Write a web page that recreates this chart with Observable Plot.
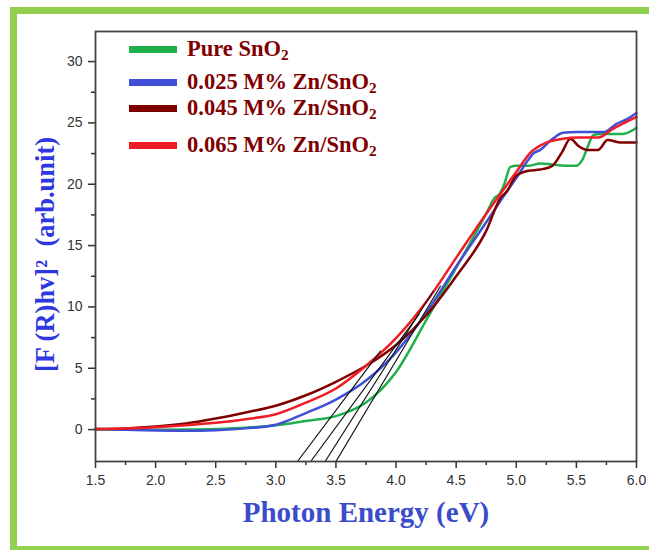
<!DOCTYPE html>
<html><head><meta charset="utf-8">
<script src="https://cdn.jsdelivr.net/npm/d3@7"></script>
<script src="https://cdn.jsdelivr.net/npm/@observablehq/plot@0.6"></script>
<style>
html,body{margin:0;padding:0;background:#fff;overflow:hidden;}
#wrap{position:relative;width:649px;height:550px;overflow:hidden;}
#chart{position:absolute;left:0;top:0;}
#border{position:absolute;left:10px;top:7px;width:660px;height:546px;box-sizing:border-box;border:7px solid #92d050;pointer-events:none;}
#legend{position:absolute;left:0;top:0;font-family:"Liberation Serif","Times New Roman",serif;font-weight:bold;font-size:22.5px;color:#800000;}
.row{position:absolute;left:129px;display:flex;align-items:center;height:30px;white-space:nowrap;}
.sw{width:48px;height:7px;margin-right:10px;flex:none;}
sub{font-size:0.68em;vertical-align:-0.25em;line-height:0;}
</style></head>
<body><div id="wrap"><div id="chart"></div><div id="border"></div><div id="legend"></div></div>
<script>
// ---- data ----
const seriesNames = ["Pure SnO2", "0.025 M% Zn/SnO2", "0.045 M% Zn/SnO2", "0.065 M% Zn/SnO2"];
const seriesLegendHtml = ["Pure SnO<sub>2</sub>", "0.025 M% Zn/SnO<sub>2</sub>", "0.045 M% Zn/SnO<sub>2</sub>", "0.065 M% Zn/SnO<sub>2</sub>"];
const seriesColors = ["#1fb04b", "#3f4fd6", "#800000", "#ee1c25"];

const pureE = [1.5,1.75,2.0,2.25,2.5,2.75,3.0,3.25,3.5,3.75,4.0,4.25,4.5,4.65,4.75,4.82,4.86,4.9,4.95,5.0,5.1,5.2,5.3,5.4,5.5,5.55,5.6,5.64,5.7,5.8,5.89,5.95,6.0];
const pureY = [0.0,0.0,-0.02,0.0,0.05,0.15,0.35,0.7,1.1,2.2,4.7,8.9,13.2,15.8,17.6,18.9,19.2,20.0,21.4,21.5,21.5,21.7,21.6,21.5,21.5,22.0,23.2,24.0,24.1,24.1,24.1,24.3,24.6];

const zn025E = [1.5,1.75,2.0,2.25,2.5,2.75,3.0,3.25,3.5,3.75,4.0,4.25,4.5,4.75,4.9,5.0,5.1,5.14,5.2,5.29,5.39,5.5,5.6,5.73,5.83,5.92,6.0];
const zn025Y = [0.05,-0.02,-0.08,-0.1,-0.05,0.1,0.4,1.35,2.45,4.0,6.3,9.5,13.3,16.9,19.1,20.5,22.0,22.5,22.8,23.6,24.2,24.25,24.25,24.25,24.9,25.3,25.8];

const zn045E = [1.5,1.75,2.0,2.25,2.5,2.75,3.0,3.25,3.5,3.75,4.0,4.25,4.5,4.75,4.87,4.92,5.0,5.1,5.2,5.3,5.38,5.45,5.52,5.59,5.68,5.76,5.87,6.0];
const zn045Y = [0.05,0.1,0.25,0.5,0.9,1.4,1.95,2.8,3.9,5.2,6.9,9.3,12.5,16.2,18.9,19.4,20.7,21.1,21.2,21.5,22.6,23.7,23.1,22.8,22.8,23.6,23.4,23.4];

const zn065E = [1.5,1.75,2.0,2.25,2.5,2.75,3.0,3.25,3.5,3.75,4.0,4.25,4.5,4.75,5.0,5.12,5.25,5.39,5.5,5.6,5.68,5.8,5.9,6.0];
const zn065Y = [0.05,0.1,0.2,0.35,0.55,0.85,1.25,2.2,3.35,5.2,7.45,10.4,14.0,17.6,21.0,22.6,23.4,23.7,23.8,23.8,23.8,24.5,25.0,25.5];

// tangent (band-gap extrapolation) lines
const tangentStartE = [3.18, 3.29, 3.41, 3.50];
const tangentEndE = [3.87, 4.19, 4.31, 4.37];
const tangentEndY = [6.4, 9.4, 11.3, 11.7];

const xDomain = [1.5, 6.0];
const yDomain = [-2.6, 32.45];
const xTicks = [1.5,2.0,2.5,3.0,3.5,4.0,4.5,5.0,5.5,6.0];
const xMinorTicks = [1.75,2.25,2.75,3.25,3.75,4.25,4.75,5.25,5.75];
const yTicks = [0,5,10,15,20,25,30];
const yMinorTicks = [2.5,7.5,12.5,17.5,22.5,27.5];
const xLabel = "Photon Energy (eV)";
const yLabel = "[F (R)hv]\u00b2\u00a0\u00a0(arb.unit)";

// ---- build rows ----
const seriesE = [pureE, zn025E, zn045E, zn065E];
const seriesY = [pureY, zn025Y, zn045Y, zn065Y];
const rows = seriesNames.flatMap((s, i) => seriesE[i].map((e, j) => ({s, e, v: seriesY[i][j]})));
const tangents = tangentStartE.flatMap((e0, i) => [
  {k: i, e: e0, v: yDomain[0]},
  {k: i, e: tangentEndE[i], v: tangentEndY[i]}
]);

const tickStyle = {stroke: "#333", strokeWidth: 1.5};
const chart = Plot.plot({
  width: 649, height: 550,
  marginLeft: 95, marginRight: 13, marginTop: 31, marginBottom: 89,
  x: {domain: xDomain},
  y: {domain: yDomain},
  color: {domain: seriesNames, range: seriesColors},
  style: {fontFamily: "'Liberation Sans', Arial, sans-serif", fontSize: "14px", color: "#333", background: "transparent"},
  marks: [
    Plot.line(rows, {x: "e", y: "v", z: "s", stroke: "s", strokeWidth: 2.5, curve: "monotone-x"}),
    Plot.line(tangents, {x: "e", y: "v", z: "k", stroke: "#111", strokeWidth: 1.2}),
    Plot.axisX(xTicks, {tickSize: 7, tickPadding: 7, tickFormat: d3.format(".1f"), fontSize: 14, label: null, ...tickStyle}),
    Plot.axisX(xMinorTicks, {tickSize: 4, fill: "none", label: null, ...tickStyle}),
    Plot.axisY(yTicks, {tickSize: 7, tickPadding: 6, fontSize: 14, label: null, ...tickStyle}),
    Plot.axisY(yMinorTicks, {tickSize: 4, fill: "none", label: null, ...tickStyle}),
    Plot.frame({stroke: "#444", strokeWidth: 1.8}),
    Plot.text([xLabel], {text: d => d, frameAnchor: "bottom", dy: 60, fontSize: 29, fontWeight: "bold", fontFamily: "'Liberation Serif', 'Times New Roman', serif", fill: "#3b4cca"}),
    Plot.text([yLabel], {text: d => d, frameAnchor: "left", textAnchor: "middle", dx: -50, dy: 8, rotate: -90, fontSize: 26.5, fontWeight: "bold", fontFamily: "'Liberation Serif', 'Times New Roman', serif", fill: "#2f38e0"})
  ]
});
document.getElementById("chart").appendChild(chart);

// legend
const legendTops = [34, 67, 93, 130];
const legend = document.getElementById("legend");
seriesNames.forEach((s, i) => {
  const row = document.createElement("div");
  row.className = "row";
  row.style.top = legendTops[i] + "px";
  row.innerHTML = `<div class="sw" style="background:${seriesColors[i]}"></div><span>${seriesLegendHtml[i]}</span>`;
  legend.appendChild(row);
});
</script>
</body></html>
